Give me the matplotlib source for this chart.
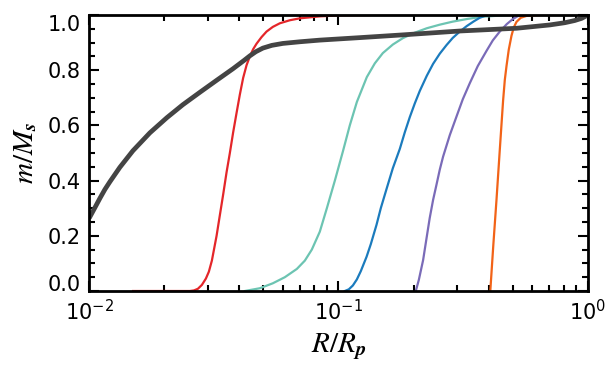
import matplotlib
matplotlib.use("Agg")
import matplotlib.pyplot as plt

# curves: radius R/Rp vs enclosed mass m/Ms
gray_r = [0.01, 0.01054, 0.01104, 0.01156, 0.01211, 0.01327, 0.01497, 0.01751, 0.02049,
          0.02375, 0.0278, 0.03252, 0.0377, 0.04173, 0.0441, 0.04661, 0.04972, 0.05404,
          0.05981, 0.0700, 0.08416, 0.1218, 0.1811, 0.3066, 0.5188, 0.704, 0.8084,
          0.8866, 0.9458, 1.0]
gray_m = [0.264, 0.302, 0.336, 0.368, 0.396, 0.448, 0.508, 0.573, 0.628,
          0.675, 0.720, 0.764, 0.805, 0.835, 0.852, 0.867, 0.880, 0.890,
          0.897, 0.903, 0.909, 0.918, 0.928, 0.942, 0.952, 0.964, 0.972,
          0.980, 0.988, 1.0]

red_r = [0.015, 0.02534, 0.0263, 0.02729, 0.02831, 0.02938, 0.0302, 0.03105, 0.03243,
         0.03343, 0.03447, 0.03556, 0.03666, 0.0378, 0.039, 0.04021, 0.04145, 0.04277,
         0.0441, 0.04546, 0.04691, 0.04913, 0.05145, 0.05454, 0.05818, 0.06381, 0.0700,
         0.08416, 0.1013, 0.1335]
red_m = [0.0, 0.0, 0.002, 0.008, 0.022, 0.045, 0.070, 0.110, 0.200,
         0.275, 0.350, 0.430, 0.500, 0.575, 0.645, 0.712, 0.772, 0.818,
         0.850, 0.876, 0.896, 0.920, 0.940, 0.957, 0.970, 0.981, 0.988,
         0.995, 0.999, 1.0]

teal_r = [0.04211, 0.04836, 0.05454, 0.06092, 0.06808, 0.07328, 0.07816, 0.08416, 0.08981,
          0.0967, 0.1041, 0.111, 0.1185, 0.1299, 0.1399, 0.1506, 0.1652, 0.1811,
          0.2024, 0.2261, 0.2549, 0.2873, 0.3302, 0.3793, 0.4866]
teal_m = [0.0, 0.010, 0.028, 0.050, 0.080, 0.110, 0.150, 0.215, 0.300,
          0.400, 0.505, 0.600, 0.685, 0.775, 0.825, 0.862, 0.893, 0.916,
          0.936, 0.952, 0.965, 0.976, 0.986, 0.994, 1.0]

blue_r = [0.106, 0.110, 0.1142, 0.1185, 0.1229, 0.1296, 0.1348, 0.1421, 0.1478,
          0.1559, 0.1652, 0.1762, 0.1845, 0.1932, 0.2024, 0.2119, 0.2261, 0.2396,
          0.2549, 0.2712, 0.2873, 0.3066, 0.3271, 0.349, 0.3687, 0.3899, 0.4236]
blue_m = [0.0, 0.006, 0.020, 0.042, 0.072, 0.124, 0.170, 0.240, 0.300,
          0.370, 0.445, 0.515, 0.575, 0.630, 0.680, 0.725, 0.780, 0.823,
          0.860, 0.891, 0.917, 0.940, 0.960, 0.977, 0.990, 0.998, 1.0]

purple_r = [0.2042, 0.21, 0.2185, 0.2254, 0.2323, 0.2396, 0.2472, 0.2549, 0.2628,
            0.2796, 0.2974, 0.3153, 0.3363, 0.362, 0.3924, 0.4159, 0.4436, 0.4732,
            0.5016, 0.524, 0.5588]
purple_m = [0.0, 0.040, 0.112, 0.190, 0.265, 0.330, 0.385, 0.440, 0.487,
            0.565, 0.632, 0.695, 0.753, 0.815, 0.870, 0.908, 0.940, 0.967,
            0.986, 0.996, 1.0]

orange_r = [0.4064, 0.4178, 0.4303, 0.4436, 0.4574, 0.4647, 0.472, 0.4821, 0.4943,
            0.5048, 0.5176, 0.5385, 0.5691, 0.642]
orange_m = [0.0, 0.165, 0.330, 0.511, 0.690, 0.765, 0.815, 0.875, 0.925,
            0.955, 0.975, 0.990, 0.997, 1.0]

plt.rcParams['font.family'] = ['DejaVu Sans']
plt.rcParams['mathtext.fontset'] = 'custom'
plt.rcParams['mathtext.rm'] = 'STIXGeneral'
plt.rcParams['mathtext.it'] = 'STIXGeneral:italic'
plt.rcParams['mathtext.bf'] = 'STIXGeneral:italic:bold'

fig = plt.figure(figsize=(6.11, 3.75), dpi=100)
ax = fig.add_axes([0.146, 0.224, 0.816, 0.736])

ax.plot(red_r, red_m, color='#e4262a', lw=1.6, zorder=3)
ax.plot(teal_r, teal_m, color='#6cc4b2', lw=1.6, zorder=3)
ax.plot(blue_r, blue_m, color='#1b7bbd', lw=1.6, zorder=3)
ax.plot(purple_r, purple_m, color='#7a6bb8', lw=1.6, zorder=3)
ax.plot(orange_r, orange_m, color='#f26318', lw=1.6, zorder=3)
ax.plot(gray_r, gray_m, color='#444444', lw=3.4, zorder=4, solid_capstyle='butt')

ax.set_xscale('log')
ax.set_yticks([0.0, 0.2, 0.4, 0.6, 0.8, 1.0])
ax.set_yticks([i * 0.05 for i in range(1, 20)], minor=True)
ax.set_yticklabels(['0.0', '0.2', '0.4', '0.6', '0.8', '1.0'])
ax.set_xlim(0.01, 1.0)
ax.set_ylim(0.0, 1.0)

for s in ax.spines.values():
    s.set_linewidth(2.0)
    s.set_zorder(5)
ax.tick_params(which='both', direction='in', top=True, right=True, width=1.5,
               labelsize=15, pad=6)
ax.tick_params(which='major', length=7.2)
ax.tick_params(which='minor', length=4.0)

labs = ax.get_yticklabels()
labs[0].set_va('baseline')
labs[-1].set_va('top')

ax.set_xlabel(r'$R/R_{\mathbf{p}}$', fontsize=21, labelpad=5)
ax.set_ylabel(r'$m/M_{\mathbf{s}}$', fontsize=21, labelpad=6)

plt.savefig("out.png", dpi=100)
